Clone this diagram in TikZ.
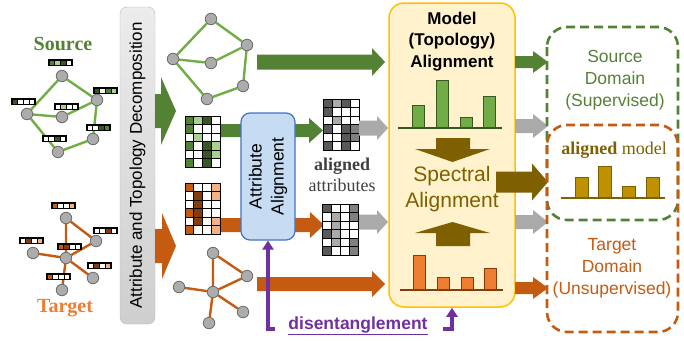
\documentclass[tikz,border=0pt]{standalone}
\usepackage{fontspec}
\setmainfont{Liberation Serif}
\setsansfont{Liberation Sans}
\usetikzlibrary{arrows.meta,calc}

\definecolor{srcgreen}{RGB}{84,130,53}
\definecolor{lightgreen}{RGB}{112,173,71}
\definecolor{darkgreen}{RGB}{56,87,35}
\definecolor{palegreen}{RGB}{169,209,142}
\definecolor{tgtorange}{RGB}{237,125,49}
\definecolor{darkorange}{RGB}{197,90,17}
\definecolor{darkbrown}{RGB}{132,60,12}
\definecolor{peach}{RGB}{244,177,131}
\definecolor{specbrown}{RGB}{127,96,0}
\definecolor{goldbar}{RGB}{191,144,0}
\definecolor{boxblue}{RGB}{68,114,196}
\definecolor{fillblue}{RGB}{197,220,242}
\definecolor{boxyellow}{RGB}{255,192,0}
\definecolor{fillyellow}{RGB}{255,242,204}
\definecolor{purp}{RGB}{112,48,160}
\definecolor{txtgray}{RGB}{64,64,64}
\definecolor{arrowgray}{RGB}{170,170,170}
\definecolor{gD}{RGB}{89,89,89}
\definecolor{gM}{RGB}{128,128,128}
\definecolor{gL}{RGB}{170,170,170}

\newcommand{\blockarrow}[6]{%
  \fill[#1] ($(#2)+(0,-#4)$) -- ($(#3)+(-#6,-#4)$) -- ($(#3)+(-#6,-#5)$) -- (#3)
    -- ($(#3)+(-#6,#5)$) -- ($(#3)+(-#6,#4)$) -- ($(#2)+(0,#4)$) -- cycle;}
\newcommand{\featbar}[3]{%
  \foreach \c [count=\k] in {#3}
    \filldraw[fill=\c,draw=black,line width=1.1pt] (#1+\k*5.75-5.75,#2) rectangle ++(5.75,5.5);}
\newcommand{\attrmat}[4]{%
  \foreach \row [count=\i] in {#4}
    \foreach \c [count=\j] in \row
      \filldraw[fill=\c,draw=black,line width=1pt] (#1+\j*#3-#3,#2+\i*8.5-8.5) rectangle ++(#3,8.5);}

\begin{document}
\begin{tikzpicture}[x=1pt,y=-1pt,
    gnode/.style={circle,fill=gray!65,draw=gray!85!black,line width=0.8pt,inner sep=0pt,minimum size=11.5pt},
    sedge/.style={lightgreen,line width=2.4pt},
    tedge/.style={darkorange,line width=2.4pt},
    domtext/.style={font=\sffamily\fontsize{17.5}{22}\selectfont,align=center},
    purparrow/.style={purp,line width=3.4pt,-{Triangle[length=9pt,width=11pt]}}]
\useasboundingbox (0,0) rectangle (684,340);

\node[srcgreen,font=\bfseries\fontsize{20}{24}\selectfont] (srclabel) at (63,44) {Source};
\node[tgtorange,font=\bfseries\fontsize{20}{24}\selectfont] (tgtlabel) at (65,308) {Target};

\foreach \n/\x/\y in {s1/62/76,s2/97/100,s3/27/114,s4/62/117,s5/93/139,s6/58/152,
    g1/211/19,g2/247/45,g3/173/59,g4/211/63,g5/243/86,g6/207/99}
  \node[gnode] (\n) at (\x,\y) {};
\draw[sedge] (s1) -- (s2) (s1) -- (s3) (s3) -- (s4) (s4) -- (s2) (s2) -- (s5) (s3) -- (s6) (s6) -- (s5);
\draw[sedge] (g1) -- (g2) (g1) -- (g3) (g3) -- (g4) (g4) -- (g2) (g2) -- (g5) (g3) -- (g6) (g6) -- (g5);

\foreach \n/\x/\y in {t1/66/218,t2/96/241,t3/33/253,t4/66/258,t5/93/278,t6/62/290,
    h1/213/253,h2/247/276,h3/179/287,h4/213/292,h5/243/312,h6/209/323}
  \node[gnode] (\n) at (\x,\y) {};
\draw[tedge] (t1) -- (t4) (t1) -- (t2) (t4) -- (t2) (t4) -- (t3) (t4) -- (t5) (t4) -- (t6);
\draw[tedge] (h1) -- (h4) (h1) -- (h2) (h4) -- (h2) (h4) -- (h3) (h4) -- (h5) (h4) -- (h6);

\featbar{49}{60}{srcgreen,palegreen,darkgreen,white}
\featbar{94}{88}{darkgreen,white,srcgreen,palegreen}
\featbar{12}{99}{darkgreen,white,white,white}
\featbar{55}{104}{white,palegreen,white,white}
\featbar{87}{125}{white,white,darkgreen,srcgreen}
\featbar{43}{136}{white,white,darkgreen,white}
\featbar{52}{203}{darkorange,white,white,peach}
\featbar{94}{228}{white,white,darkbrown,white}
\featbar{20}{238}{white,darkbrown,white,peach}
\featbar{58}{244}{darkorange,darkbrown,white,white}
\featbar{88}{263}{white,darkbrown,white,peach}
\featbar{47}{274}{darkorange,white,white,white}

\node[draw=gray!55,rounded corners=7pt,top color=gray!15,bottom color=gray!38,
  minimum width=35pt,minimum height=317pt] (decomp) at (137.5,165.5) {};
\node[rotate=90,font=\sffamily\fontsize{17}{20}\selectfont] (decomptext) at (decomp) {Attribute and Topology Decomposition};

\coordinate (sdecA) at (155,111);  \coordinate (sdecB) at (176,111);
\coordinate (tdecA) at (155,246);  \coordinate (tdecB) at (176,246);
\coordinate (stopA) at (257,62);   \coordinate (stopB) at (385,62);
\coordinate (ttopA) at (257,284);  \coordinate (ttopB) at (385,284);
\coordinate (sattA) at (220,130.5);\coordinate (sattB) at (323,130.5);
\coordinate (tattA) at (220,225);  \coordinate (tattB) at (324,225);
\blockarrow{srcgreen}{sdecA}{sdecB}{17}{34}{15}
\blockarrow{darkorange}{tdecA}{tdecB}{17}{33}{14}
\blockarrow{srcgreen}{stopA}{stopB}{7.5}{14}{13}
\blockarrow{darkorange}{ttopA}{ttopB}{7}{13}{13}
\blockarrow{srcgreen}{sattA}{sattB}{6.5}{12.5}{14}
\blockarrow{darkorange}{tattA}{tattB}{7}{13}{14}

\attrmat{185}{116}{8.75}{{srcgreen,palegreen,darkgreen,white},{srcgreen,white,white,white},
  {white,palegreen,white,white},{srcgreen,white,darkgreen,palegreen},
  {white,white,darkgreen,palegreen},{srcgreen,white,darkgreen,white}}
\attrmat{185}{183}{8.75}{{darkorange,white,white,peach},{white,darkbrown,white,peach},
  {white,darkbrown,white,white},{darkorange,darkbrown,white,white},
  {white,darkbrown,white,peach},{darkorange,white,white,peach}}
\attrmat{323}{99}{9}{{gD,gL,gD,white},{gD,white,white,white},{white,gL,white,white},
  {gD,white,gD,gM},{white,white,gD,gM},{gD,white,gD,white}}
\attrmat{322}{204}{9}{{gD,white,white,gM},{white,gL,white,gM},{white,gL,white,white},
  {gD,gL,white,white},{white,gL,white,gM},{gD,white,white,gM}}

\node[draw=boxblue,fill=fillblue,line width=1.2pt,rounded corners=9pt,
  minimum width=54pt,minimum height=127pt] (attrbox) at (268,176.5) {};
\node[rotate=90,font=\sffamily\fontsize{17.5}{22}\selectfont,align=center] (attrtext) at (attrbox) {Attribute\\Alignment};

\node[txtgray,font=\fontsize{18}{21}\selectfont,align=center] (alattr) at (342,175) {\textbf{aligned}\\attributes};

\coordinate (sgrA) at (359,128); \coordinate (sgrB) at (388,128);
\coordinate (tgrA) at (359,222); \coordinate (tgrB) at (388,222);
\blockarrow{arrowgray}{sgrA}{sgrB}{7.5}{12}{11}
\blockarrow{arrowgray}{tgrA}{tgrB}{7.5}{12}{11}

\node[draw=boxyellow,fill=fillyellow,line width=1.5pt,rounded corners=15pt,
  minimum width=126pt,minimum height=304pt] (mbox) at (452,155) {};
\node[font=\sffamily\bfseries\fontsize{17}{21.5}\selectfont,align=center] (mtitle) at (452,41.5) {Model\\(Topology)\\Alignment};
\node[specbrown,font=\sffamily\fontsize{21}{26}\selectfont,align=center] (spec) at (452,189) {Spectral\\Alignment};

\foreach \x/\t in {412/105,436/80,460/117,483/96}
  \filldraw[fill=lightgreen,draw=darkgreen,line width=1pt] (\x,128) rectangle (\x+12,\t);
\draw[darkgreen,line width=1.2pt] (398,128) -- (502,128);
\foreach \x/\t in {413/255,437/277,461/277,484/268}
  \filldraw[fill=tgtorange,draw=darkbrown,line width=1pt] (\x,290) rectangle (\x+12,\t);
\draw[darkbrown,line width=1.2pt] (400,290) -- (503,290);

\fill[specbrown] (436,138) -- (470,138) -- (470,149) -- (490,149) -- (452.5,162) -- (415,149) -- (436,149) -- cycle;
\fill[specbrown] (436,246) -- (470,246) -- (470,233) -- (490,233) -- (452.5,222) -- (415,233) -- (436,233) -- cycle;

\coordinate (rsA) at (515,62);  \coordinate (rsB) at (548,62);
\coordinate (rgA) at (515,126); \coordinate (rgB) at (548,126);
\coordinate (rbA) at (496,182); \coordinate (rbB) at (548,182);
\coordinate (rhA) at (515,222); \coordinate (rhB) at (548,222);
\coordinate (roA) at (515,288); \coordinate (roB) at (548,288);
\blockarrow{srcgreen}{rsA}{rsB}{6}{11}{15}
\blockarrow{arrowgray}{rgA}{rgB}{7}{12}{15}
\blockarrow{specbrown}{rbA}{rbB}{10.5}{18.5}{16}
\blockarrow{arrowgray}{rhA}{rhB}{7}{12}{15}
\blockarrow{darkorange}{roA}{roB}{6}{11}{15}

\draw[srcgreen,line width=2.6pt,dash pattern=on 9pt off 5pt,rounded corners=20pt] (547,27) rectangle (678,220);
\draw[darkorange,line width=2.6pt,dash pattern=on 9pt off 5pt,rounded corners=20pt] (547,125) rectangle (678,332);
\node[domtext,srcgreen] (srcdom) at (615,80) {Source\\Domain\\(Supervised)};
\node[domtext,darkorange] (tgtdom) at (612,268) {Target\\Domain\\(Unsupervised)};
\node[specbrown,font=\fontsize{18}{22}\selectfont] (almodel) at (614,150) {\textbf{aligned} model};
\foreach \x/\t in {575/177,598/166,622/186,646/177}
  \filldraw[fill=goldbar,draw=specbrown,line width=1pt] (\x,198) rectangle (\x+13,\t);
\draw[specbrown,line width=1.2pt] (561,198) -- (665,198);

\node[purp,font=\sffamily\bfseries\fontsize{17.5}{20}\selectfont] (disent) at (358,326) {\underline{disentanglement}};
\draw[purparrow] ([xshift=-10pt,yshift=-3pt]disent.west) -| (attrbox.south);
\draw[purparrow] ([xshift=12pt,yshift=-3pt]disent.east) -| (mbox.south);
\end{tikzpicture}
\end{document}
